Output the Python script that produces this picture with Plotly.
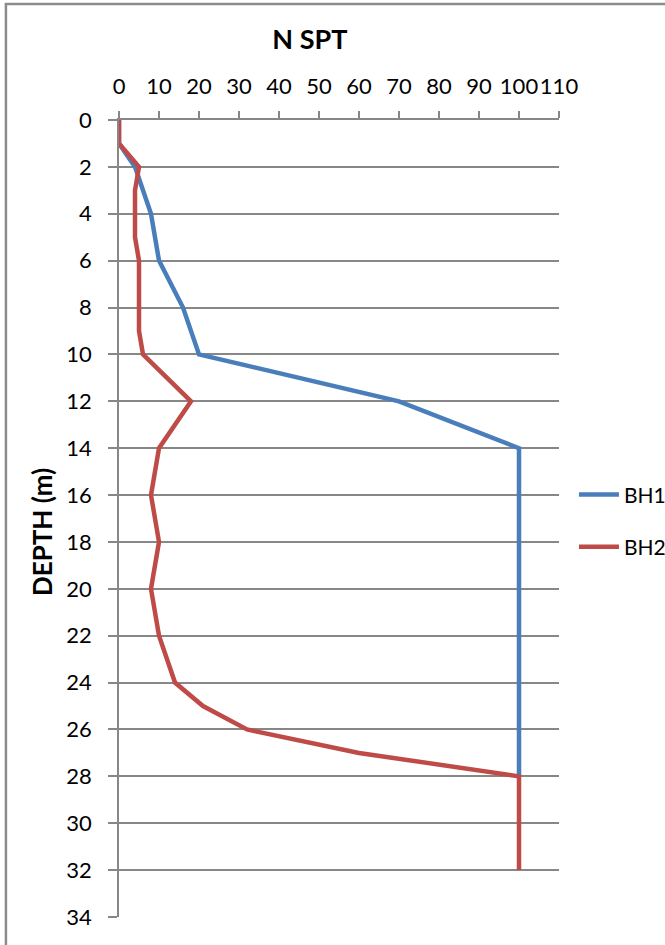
import plotly.graph_objects as go

# SPT blow counts (N) against depth for two boreholes
bh1_depth = [0, 1, 2, 4, 6, 8, 10, 12, 14, 16, 18, 20, 22, 24, 26, 28]
bh1_n = [0, 0, 4, 8, 10, 16, 20, 70, 100, 100, 100, 100, 100, 100, 100, 100]

bh2_depth = [0, 1, 2, 3, 5, 6, 8, 9, 10, 12, 14, 16, 18, 20, 22, 24, 25, 26, 27, 28, 30, 32]
bh2_n = [0, 0, 5, 4, 4, 5, 5, 5, 6, 18, 10, 8, 10, 8, 10, 14, 21, 32, 60, 100, 100, 100]

x_ticks = list(range(0, 111, 10))
y_ticks = list(range(0, 35, 2))

FONT = "Lato, 'Open Sans', sans-serif"
GRID = "#878787"

fig = go.Figure()
fig.add_trace(go.Scatter(x=bh1_n, y=bh1_depth, mode="lines", name="BH1", legendgroup="bh1",
                         line=dict(color="#4a7ebb", width=4.5)))
fig.add_trace(go.Scatter(x=bh2_n, y=bh2_depth, mode="lines", name="BH2", legendgroup="bh2",
                         line=dict(color="#be4b48", width=4.5)))

fig.update_layout(
    width=665, height=945,
    margin=dict(l=119, r=106, t=120, b=28, autoexpand=False),
    paper_bgcolor="white", plot_bgcolor="white",
    font=dict(family=FONT, size=22, color="#000000"),
    title=dict(text="<b>N SPT</b>", x=0.466, xanchor="center", y=0.958, yanchor="middle",
               font=dict(size=27)),
    showlegend=True,
    legend=dict(x=1.034, xanchor="left", y=0.497, yanchor="middle",
                font=dict(size=21), traceorder="grouped", tracegroupgap=22,
                itemwidth=40, bgcolor="rgba(0,0,0,0)"),
    xaxis=dict(side="top", range=[0, 110], tickvals=x_ticks,
               ticktext=[str(v) for v in x_ticks], tickangle=0,
               showgrid=False, zeroline=False,
               showline=True, linecolor=GRID, linewidth=1.5,
               ticks="outside", ticklen=7, tickcolor=GRID, tickwidth=1.5,
               ticklabelstandoff=8, tickfont=dict(size=22)),
    yaxis=dict(range=[34, 0], tickvals=y_ticks,
               showgrid=True, gridcolor=GRID, gridwidth=1.5, zeroline=False,
               showline=True, linecolor=GRID, linewidth=1.5,
               ticks="outside", ticklen=9, tickcolor=GRID, tickwidth=1.5,
               ticklabelstandoff=12, tickfont=dict(size=22)),
    annotations=[dict(text="<b>DEPTH (m)</b>", textangle=-90, xref="paper", yref="paper",
                      x=-0.175, y=0.483, xanchor="center", yanchor="middle",
                      showarrow=False, font=dict(size=26))],
    shapes=[dict(type="rect", xref="paper", yref="paper",
                 x0=-0.257, x1=1.3, y0=-0.2, y1=1.1455,
                 line=dict(color="#8c8c8c", width=2.5), layer="below")],
)

fig.write_html("out.html")
